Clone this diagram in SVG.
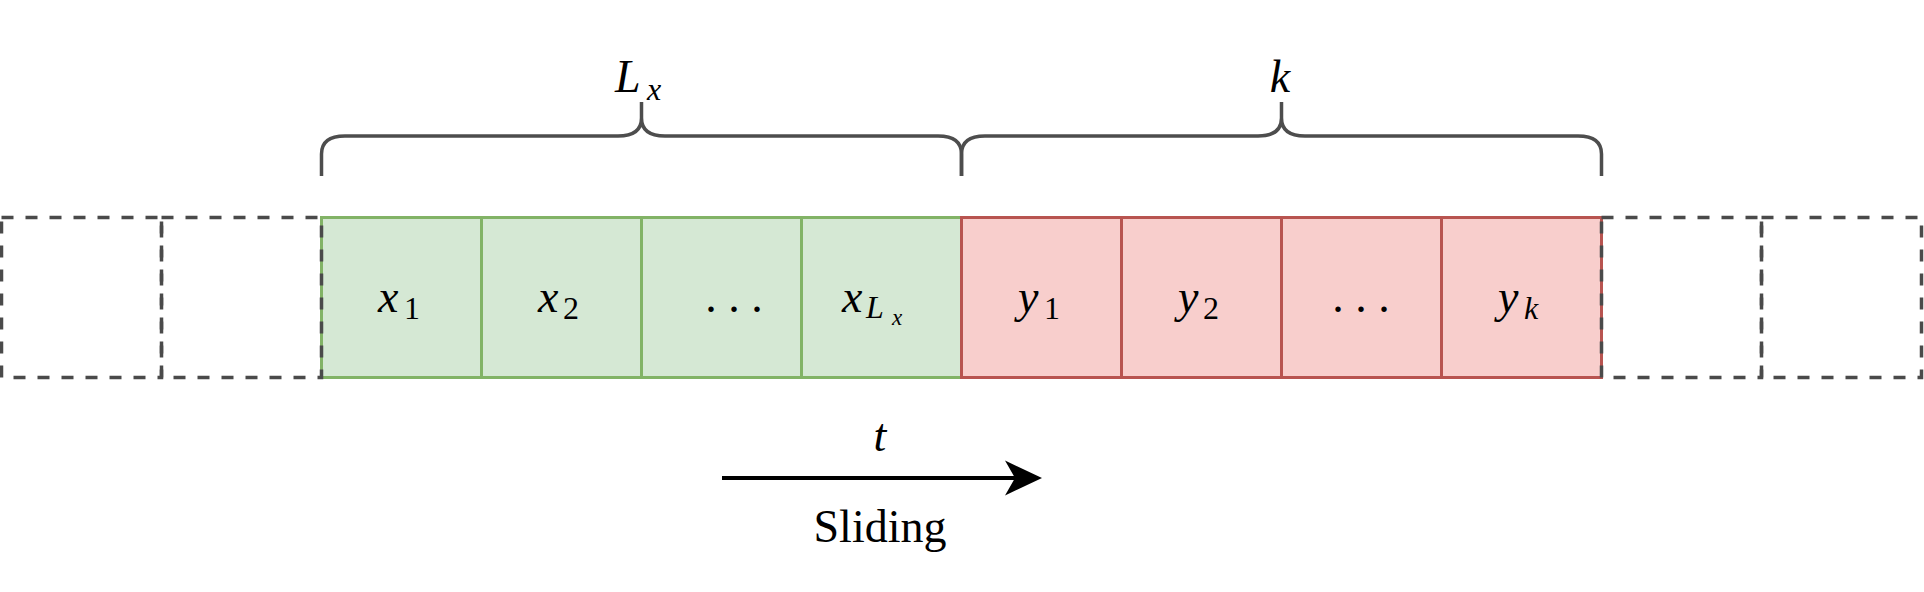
<svg xmlns="http://www.w3.org/2000/svg" width="1924" height="592" viewBox="0 0 1924 592">
  <style>
    .dash { fill: none; stroke: #4a4a4a; stroke-width: 3.5; stroke-dasharray: 12 12; }
    .g { fill: #d5e8d4; stroke: #82b366; stroke-width: 3; }
    .r { fill: #f8cecc; stroke: #b85450; stroke-width: 3; }
    .brace { fill: none; stroke: #4d4d4d; stroke-width: 3.5; stroke-linecap: butt; }
    .m { font-style: italic; font-size: 46px; fill: #000; }
    .up { font-style: normal; }
    .txt { font-size: 46px; fill: #000; }
  </style>
  <defs>
    <marker id="arrow" markerUnits="userSpaceOnUse" markerWidth="40" markerHeight="40" viewBox="0 0 40 40" refX="10" refY="20" orient="auto">
      <path d="M37,20 L0,2.5 L10,20 L0,37.5 Z" fill="#000"/>
    </marker>
  </defs>
  <rect width="1924" height="592" fill="#ffffff"/>

  <g id="cell-x1"><rect class="g" x="321.5" y="217.5" width="160" height="160"/>
    <text class="m" font-family="Liberation Serif, Times New Roman, serif" x="378" y="312">x<tspan class="up" x="404" y="319" font-size="32">1</tspan></text></g>
  <g id="cell-x2"><rect class="g" x="481.5" y="217.5" width="160" height="160"/>
    <text class="m" font-family="Liberation Serif, Times New Roman, serif" x="538" y="312">x<tspan class="up" x="563" y="319" font-size="32">2</tspan></text></g>
  <g id="cell-xdots"><rect class="g" x="641.5" y="217.5" width="160" height="160"/>
    <text class="txt" font-family="Liberation Serif, Times New Roman, serif" x="734" y="312" text-anchor="middle">. . .</text></g>
  <g id="cell-xLx"><rect class="g" x="801.5" y="217.5" width="160" height="160"/>
    <text class="m" font-family="Liberation Serif, Times New Roman, serif" x="842" y="312">x<tspan x="866" y="318" font-size="32">L</tspan><tspan x="892" y="325" font-size="23">x</tspan></text></g>

  <g id="cell-y1"><rect class="r" x="961.5" y="217.5" width="160" height="160"/>
    <text class="m" font-family="Liberation Serif, Times New Roman, serif" x="1018" y="312">y<tspan class="up" x="1044" y="319" font-size="32">1</tspan></text></g>
  <g id="cell-y2"><rect class="r" x="1121.5" y="217.5" width="160" height="160"/>
    <text class="m" font-family="Liberation Serif, Times New Roman, serif" x="1178" y="312">y<tspan class="up" x="1203" y="319" font-size="32">2</tspan></text></g>
  <g id="cell-ydots"><rect class="r" x="1281.5" y="217.5" width="160" height="160"/>
    <text class="txt" font-family="Liberation Serif, Times New Roman, serif" x="1361" y="312" text-anchor="middle">. . .</text></g>
  <g id="cell-yk"><rect class="r" x="1441.5" y="217.5" width="160" height="160"/>
    <text class="m" font-family="Liberation Serif, Times New Roman, serif" x="1498" y="312">y<tspan x="1524" y="319" font-size="32">k</tspan></text></g>

  <g id="pad-left-1"><rect class="dash" x="1.5" y="217.5" width="160" height="160"/></g>
  <g id="pad-left-2"><rect class="dash" x="161.5" y="217.5" width="160" height="160"/></g>
  <g id="pad-right-1"><rect class="dash" x="1601.5" y="217.5" width="160" height="160"/></g>
  <g id="pad-right-2"><rect class="dash" x="1761.5" y="217.5" width="160" height="160"/></g>

  <g id="brace-Lx">
    <path class="brace" d="M321.5,176 V154 Q321.5,136 345,136 H618 Q641.5,136 641.5,118 V102 M641.5,118 Q641.5,136 665,136 H938 Q961.5,136 961.5,154 V176"/>
    <text class="m" font-family="Liberation Serif, Times New Roman, serif" x="615" y="92">L<tspan x="647" y="100" font-size="32">x</tspan></text>
  </g>
  <g id="brace-k">
    <path class="brace" d="M961.5,176 V154 Q961.5,136 985,136 H1258 Q1281.5,136 1281.5,118 V102 M1281.5,118 Q1281.5,136 1305,136 H1578 Q1601.5,136 1601.5,154 V176"/>
    <text class="m" font-family="Liberation Serif, Times New Roman, serif" x="1280" y="92" text-anchor="middle">k</text>
  </g>

  <g id="connectors">
    <line x1="722" y1="478" x2="1015" y2="478" stroke="#000" stroke-width="4" marker-end="url(#arrow)"/>
  </g>
  <g id="labels">
    <text class="m" font-family="Liberation Serif, Times New Roman, serif" x="880" y="451" text-anchor="middle" font-size="44">t</text>
    <text class="txt" font-family="Liberation Serif, Times New Roman, serif" x="880" y="542" text-anchor="middle">Sliding</text>
  </g>
</svg>
